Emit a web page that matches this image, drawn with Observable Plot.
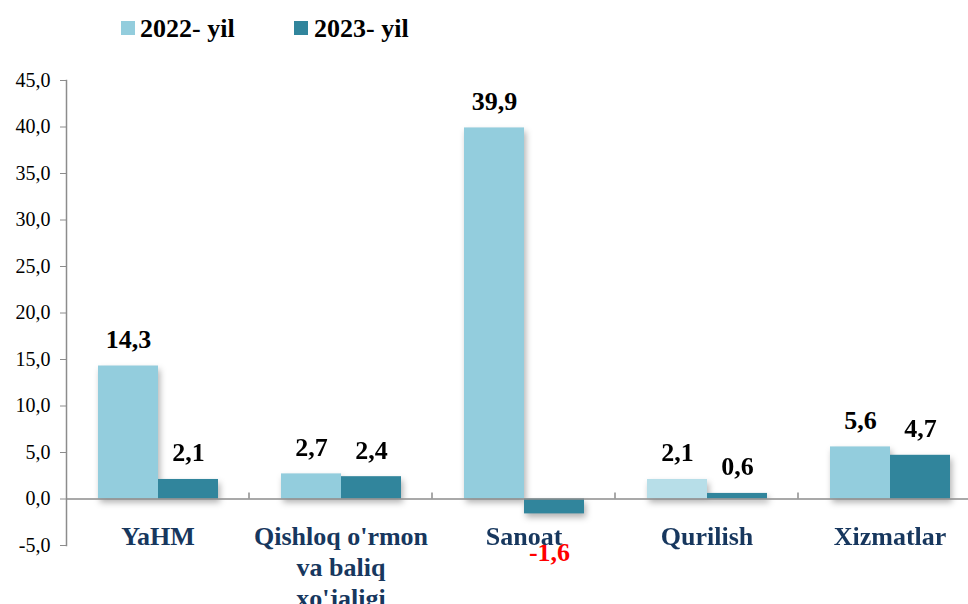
<!DOCTYPE html>
<html>
<head>
<meta charset="utf-8">
<script src="https://cdn.jsdelivr.net/npm/d3@7"></script>
<script src="https://cdn.jsdelivr.net/npm/@observablehq/plot@0.6"></script>
<style>
  html, body { margin: 0; padding: 0; background: #fff; overflow: hidden; }
  #wrap { position: relative; width: 968px; height: 604px; }
  #legend { position: relative; width: 968px; height: 56px; font-family: "Liberation Serif", serif; font-weight: bold; font-size: 26px; color: #000; }
  .sw { position: absolute; width: 14px; height: 14px; top: 21px; }
  .lt { position: absolute; top: 16px; line-height: 26px; white-space: nowrap; }
  svg { display: block; }
</style>
</head>
<body>
<div id="wrap">
  <div id="legend"></div>
  <div id="chart"></div>
</div>
<script>
const categories = ["YaHM", "Qishloq o'rmon\nva baliq\nxo'jaligi", "Sanoat", "Qurilish", "Xizmatlar"];
const seriesNames = ["2022- yil", "2023- yil"];
const values2022 = [14.3, 2.7, 39.9, 2.1, 5.6];
const values2023 = [2.1, 2.4, -1.6, 0.6, 4.7];
const yTicks = [-5, 0, 5, 10, 15, 20, 25, 30, 35, 40, 45];

const colour2022 = "#93CDDD";
const colour2023 = "#31859C";
const colourLight = "#B7DEE8";
const labelColour = "#17375E";
const axisColour = "#8c8c8c";

const data = categories.flatMap((c, i) => [
  {category: c, series: seriesNames[0], value: values2022[i]},
  {category: c, series: seriesNames[1], value: values2023[i]}
]);
const fmt = v => v.toFixed(1).replace(".", ",");
const fillOf = d => d.series === seriesNames[1] ? colour2023 : (d.category === "Qurilish" ? colourLight : colour2022);

// legend
const legend = document.getElementById("legend");
[[seriesNames[0], colour2022, 121, 140], [seriesNames[1], colour2023, 294, 314]].forEach(([name, col, sx, tx]) => {
  const s = document.createElement("div");
  s.className = "sw"; s.style.left = sx + "px"; s.style.background = col;
  legend.appendChild(s);
  const t = document.createElement("div");
  t.className = "lt"; t.style.left = tx + "px"; t.textContent = name;
  legend.appendChild(t);
});

const chart = Plot.plot({
  width: 968,
  height: 548,
  marginTop: 24,
  marginBottom: 59,
  marginLeft: 66,
  marginRight: 0,
  style: {fontFamily: "Liberation Serif, serif", background: "white", overflow: "visible"},
  fx: {domain: categories, range: [66, 981], paddingInner: 0, paddingOuter: 0, axis: null, label: null},
  x: {domain: seriesNames, paddingInner: 0, paddingOuter: 0.525, axis: null},
  y: {domain: [-5, 45], axis: null},
  marks: [
    Plot.barY(data, {fx: "category", x: "series", y: "value", fill: fillOf}),
    Plot.ruleY([0], {stroke: axisColour, strokeWidth: 1.5}),
    Plot.axisY({ticks: yTicks, tickFormat: fmt, tickSize: 6, tickPadding: 10, fontSize: 20, stroke: axisColour, fill: "black", label: null}),
    Plot.frame({anchor: "left", facetAnchor: "left", stroke: axisColour, strokeWidth: 1.5}),
    Plot.text(data.filter(d => d.value >= 0), {fx: "category", x: "series", y: "value", text: d => fmt(d.value), lineAnchor: "bottom", dy: -18, fontSize: 26, fontWeight: "bold", fill: "black"}),
    Plot.text(data.filter(d => d.value < 0), {fx: "category", x: "series", y: "value", text: d => fmt(d.value), lineAnchor: "bottom", dy: 47, dx: -5, fontSize: 26, fontWeight: "bold", fill: "#FF0000"}),
    Plot.text(categories, {fx: d => d, y: () => 0, text: d => d, lineAnchor: "top", dy: 24, fontSize: 26, fontWeight: "bold", fill: labelColour, lineHeight: 1.19})
  ]
});
document.getElementById("chart").appendChild(chart);

// category boundary ticks on the zero line, from the plot's own scales
const fxScale = chart.scale("fx");
const yScale = chart.scale("y");
const y0 = yScale.apply(0);
const svg = d3.select(chart);
const tg = svg.append("g").attr("stroke", axisColour).attr("stroke-width", 1.5);
categories.slice(1).forEach(c => {
  const x = fxScale.apply(c);
  tg.append("line").attr("x1", x).attr("x2", x).attr("y1", y0 - 6).attr("y2", y0);
});
// soft shadow under bars
chart.querySelectorAll('g[aria-label="bar"]').forEach(g => {
  g.style.filter = "drop-shadow(2px 4px 3px rgba(0,0,0,0.3))";
});
</script>
</body>
</html>
